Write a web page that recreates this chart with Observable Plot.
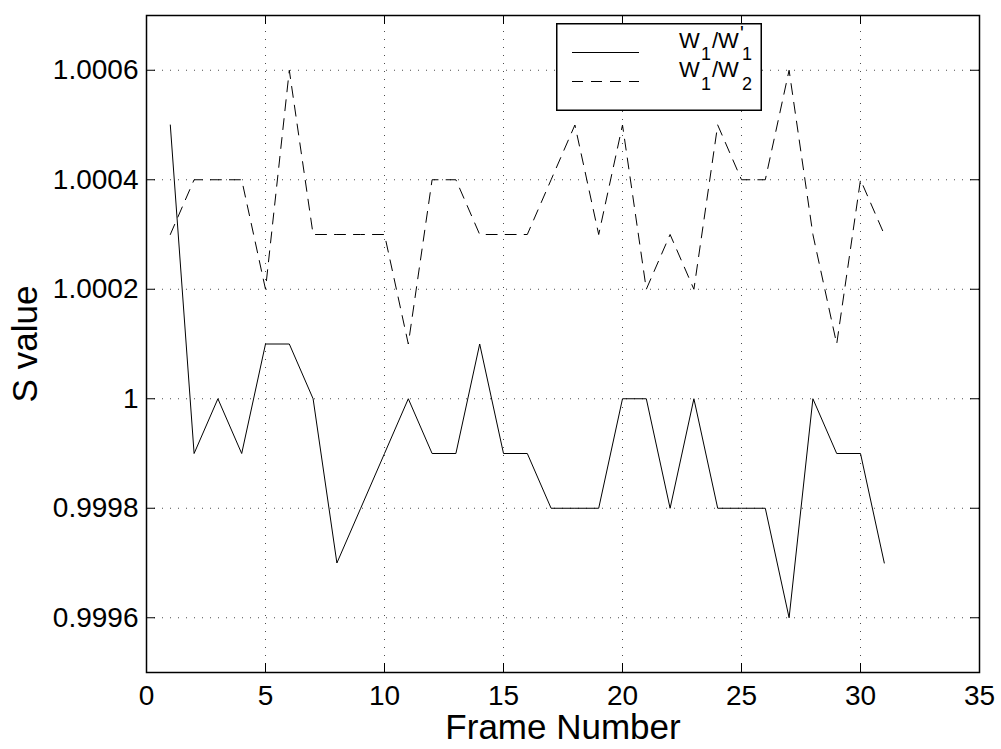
<!DOCTYPE html>
<html><head><meta charset="utf-8">
<script src="https://cdn.jsdelivr.net/npm/d3@7"></script>
<script src="https://cdn.jsdelivr.net/npm/@observablehq/plot@0.6"></script>
<style>
html,body{margin:0;padding:0;background:#fff;}
#wrap{position:relative;width:1001px;height:749px;overflow:hidden;}
#legend{position:absolute;left:556px;top:23px;}
#legend text{font-family:'Liberation Sans',Arial,sans-serif;fill:#000;}
</style></head><body>
<div id="wrap"></div>
<script>
// ---- data ----
const frames = [1,2,3,4,5,6,7,8,9,10,11,12,13,14,15,16,17,18,19,20,21,22,23,24,25,26,27,28,29,30,31];
const ratioW1W1p = [1.0005,0.9999,1.0000,0.9999,1.0001,1.0001,1.0000,0.9997,0.9998,0.9999,1.0000,0.9999,0.9999,1.0001,0.9999,0.9999,0.9998,0.9998,0.9998,1.0000,1.0000,0.9998,1.0000,0.9998,0.9998,0.9998,0.9996,1.0000,0.9999,0.9999,0.9997];
const ratioW1W2  = [1.0003,1.0004,1.0004,1.0004,1.0002,1.0006,1.0003,1.0003,1.0003,1.0003,1.0001,1.0004,1.0004,1.0003,1.0003,1.0003,1.0004,1.0005,1.0003,1.0005,1.0002,1.0003,1.0002,1.0005,1.0004,1.0004,1.0006,1.0003,1.0001,1.0004,1.0003];
const seriesNames = ["W1/W1'", "W1/W2"];
const xTicks = [0,5,10,15,20,25,30,35];
const yTicks = [0.9996,0.9998,1,1.0002,1.0004,1.0006];
const yTickLabels = ["0.9996","0.9998","1","1.0002","1.0004","1.0006"];
const xDomain = [0,35];
const yDomain = [0.9995,1.0007];
const xLabel = "Frame Number";
const yLabel = "S value";

// ---- layout ----
const W = 1001, H = 749, mL = 146, mR = 22, mT = 15, mB = 77;
const pw = W - mL - mR, ph = H - mT - mB, tk = 9;
const font = "'Liberation Sans', Arial, sans-serif";

const solid = frames.map((f, i) => ({frame: f, s: ratioW1W1p[i], series: seriesNames[0]}));
const dashed = frames.map((f, i) => ({frame: f, s: ratioW1W2[i], series: seriesNames[1]}));

const chart = Plot.plot({
  width: W, height: H,
  marginLeft: mL, marginRight: mR, marginTop: mT, marginBottom: mB,
  style: {fontFamily: font, background: "white", color: "black"},
  x: {domain: xDomain},
  y: {domain: yDomain},
  marks: [
    Plot.gridX(xTicks, {stroke: "#000", strokeOpacity: 0.7, strokeDasharray: "1,7"}),
    Plot.gridY(yTicks, {stroke: "#000", strokeOpacity: 0.7, strokeDasharray: "1,7"}),
    Plot.line(solid, {x: "frame", y: "s", stroke: "black", strokeWidth: 1}),
    Plot.line(dashed, {x: "frame", y: "s", stroke: "black", strokeWidth: 1, strokeDasharray: "11,8"}),
    Plot.tickX(xTicks, {x: d => d, insetTop: ph - tk, stroke: "black"}),
    Plot.tickX(xTicks, {x: d => d, insetBottom: ph - tk, stroke: "black"}),
    Plot.tickY(yTicks, {y: d => d, insetRight: pw - tk, stroke: "black"}),
    Plot.tickY(yTicks, {y: d => d, insetLeft: pw - tk, stroke: "black"}),
    Plot.frame({stroke: "black", strokeWidth: 1.5}),
    Plot.axisX(xTicks, {tickSize: 0, tickPadding: 13, fontSize: 28, label: null}),
    Plot.axisY(yTicks, {tickSize: 0, tickPadding: 8, fontSize: 28, label: null,
      tickFormat: d => yTickLabels[yTicks.indexOf(d)]}),
    Plot.text([xLabel], {text: d => d, frameAnchor: "bottom", dy: 55, fontSize: 35, lineAnchor: "middle", textAnchor: "middle"}),
    Plot.text([yLabel], {text: d => d, frameAnchor: "left", dx: -121, rotate: -90, fontSize: 35, lineAnchor: "middle", textAnchor: "middle"})
  ]
});
const wrap = document.getElementById("wrap");
wrap.appendChild(chart);

// ---- legend ----
const ns = "http://www.w3.org/2000/svg";
const lg = document.createElementNS(ns, "svg");
lg.setAttribute("id", "legend");
lg.setAttribute("width", 206);
lg.setAttribute("height", 88);
lg.innerHTML = `
  <rect x="0.75" y="0.75" width="204.5" height="86.5" fill="white" stroke="black" stroke-width="1.5"/>
  <line x1="16" x2="83" y1="29.5" y2="29.5" stroke="black" stroke-width="1"/>
  <line x1="16" x2="83" y1="58.5" y2="58.5" stroke="black" stroke-width="1" stroke-dasharray="11,8"/>
  <text x="123" y="24.5" font-size="22">W</text>
  <text x="145" y="37" font-size="18">1</text>
  <text x="156" y="24.5" font-size="22">/W</text>
  <text x="184" y="17" font-size="20">'</text>
  <text x="186" y="37" font-size="18">1</text>
  <text x="123" y="54" font-size="22">W</text>
  <text x="145" y="67" font-size="18">1</text>
  <text x="156" y="54" font-size="22">/W</text>
  <text x="186" y="67" font-size="18">2</text>
`;
wrap.appendChild(lg);
</script>
</body></html>
